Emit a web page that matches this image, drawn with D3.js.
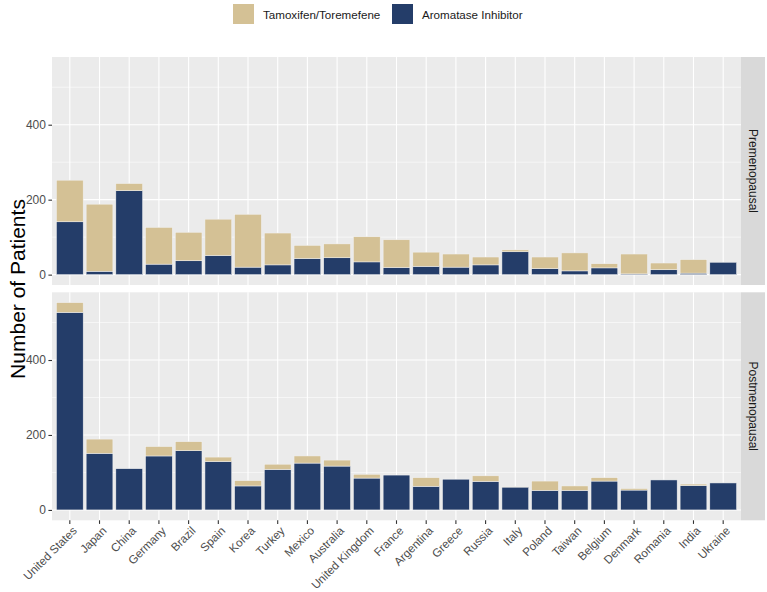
<!DOCTYPE html>
<html>
<head>
<meta charset="utf-8">
<script src="https://cdn.jsdelivr.net/npm/d3@7"></script>
<style>
  html, body { margin: 0; padding: 0; background: #ffffff; }
  svg { display: block; font-family: "Liberation Sans", Arial, sans-serif; }
</style>
</head>
<body>
<svg id="chart" width="767" height="592"></svg>
<script>
// ---- data ----
const countries = ["United States","Japan","China","Germany","Brazil","Spain","Korea","Turkey","Mexico","Australia","United Kingdom","France","Argentina","Greece","Russia","Italy","Poland","Taiwan","Belgium","Denmark","Romania","India","Ukraine"];
const panels = ["Premenopausal","Postmenopausal"];
const seriesNames = ["Tamoxifen/Toremefene","Aromatase Inhibitor"];
// Premenopausal
const preAI  = [141, 9, 224, 28, 37, 51, 20, 26, 43, 45, 34, 19, 22, 20, 26, 61, 16, 10, 18, 2, 13, 4, 33];
const preTam = [111,179, 19, 98, 76, 97,141, 85, 35, 37, 67, 74, 38, 35, 21,  5, 31, 48, 11,53, 18,36,  0];
// Postmenopausal
const postAI  = [527,151,110,144,158,129, 64,108,125,117, 85, 93, 63, 82, 76, 61, 52, 52, 77, 53, 80, 65, 72];
const postTam = [ 26, 38,  0, 25, 24, 12, 14, 14, 19, 16, 10,  0, 23,  0, 15,  1, 25, 12,  9,  4,  0,  4,  0];
const yTicks = [0, 200, 400];
const yMinor = [100, 300, 500];

const colTam = "#D4C195";
const colAI  = "#243D69";

const svg = d3.select("#chart");
const L = 52, R = 741;
const panelBox = [{top: 57, bottom: 285}, {top: 292.3, bottom: 520.3}];
const stripX = 741, stripW = 24;

const x = d3.scaleBand().domain(countries).range([L, R]).paddingInner(0.1).paddingOuter(0.15);
const yMax = 553;
const ex = yMax * 0.05;

const panelData = [
  {name: panels[0], ai: preAI, tam: preTam},
  {name: panels[1], ai: postAI, tam: postTam}
];

panelData.forEach((p, pi) => {
  const box = panelBox[pi];
  const y = d3.scaleLinear().domain([-ex, yMax + ex]).range([box.bottom, box.top]);
  const g = svg.append("g");
  // background
  g.append("rect").attr("x", L).attr("y", box.top).attr("width", R - L).attr("height", box.bottom - box.top).attr("fill", "#EBEBEB");
  // minor grid
  g.selectAll(".ymin").data(yMinor).enter().append("line")
    .attr("x1", L).attr("x2", R).attr("y1", d => y(d)).attr("y2", d => y(d))
    .attr("stroke", "#ffffff").attr("stroke-width", 0.55);
  // major grid
  g.selectAll(".ymaj").data(yTicks).enter().append("line")
    .attr("x1", L).attr("x2", R).attr("y1", d => y(d)).attr("y2", d => y(d))
    .attr("stroke", "#ffffff").attr("stroke-width", 1.1);
  g.selectAll(".xmaj").data(countries).enter().append("line")
    .attr("x1", d => x(d) + x.bandwidth()/2).attr("x2", d => x(d) + x.bandwidth()/2)
    .attr("y1", box.top).attr("y2", box.bottom)
    .attr("stroke", "#ffffff").attr("stroke-width", 1.1);
  // stacked bars
  const rows = countries.map((c, i) => ({country: c, ai: p.ai[i], tam: p.tam[i]}));
  const stack = d3.stack().keys(["ai", "tam"])(rows);
  const colors = {ai: colAI, tam: colTam};
  stack.forEach(layer => {
    g.selectAll(".b" + layer.key).data(layer).enter().append("rect")
      .attr("x", d => x(d.data.country))
      .attr("width", x.bandwidth())
      .attr("y", d => y(d[1]))
      .attr("height", d => Math.max(0, y(d[0]) - y(d[1])))
      .attr("fill", colors[layer.key])
      .attr("stroke", d => (d[1] - d[0]) > 0 ? "#f2f2f2" : "none")
      .attr("stroke-width", 0.5);
  });
  // y axis
  const ya = g.append("g").attr("transform", `translate(${L},0)`)
    .call(d3.axisLeft(y).tickValues(yTicks).tickSize(3.6).tickPadding(2.5));
  ya.select(".domain").remove();
  ya.selectAll(".tick line").attr("stroke", "#333333").attr("stroke-width", 1.1);
  ya.selectAll(".tick text").attr("fill", "#4D4D4D").style("font-size", "12px")
    .style("font-family", "'Liberation Sans', Arial, sans-serif");
  // strip
  g.append("rect").attr("x", stripX).attr("y", box.top).attr("width", stripW).attr("height", box.bottom - box.top).attr("fill", "#D9D9D9");
  g.append("text")
    .attr("transform", `translate(${stripX + stripW/2},${(box.top + box.bottom)/2}) rotate(90)`)
    .attr("text-anchor", "middle").attr("dominant-baseline", "central")
    .attr("fill", "#1A1A1A").style("font-size", "12px").text(p.name);

  if (pi === 1) {
    const xa = g.append("g").attr("transform", `translate(0,${box.bottom})`)
      .call(d3.axisBottom(x).tickSize(3.6).tickPadding(0));
    xa.select(".domain").remove();
    xa.selectAll(".tick line").attr("stroke", "#333333").attr("stroke-width", 1.1);
    xa.selectAll(".tick text").remove();
    g.selectAll(".xlab").data(countries).enter().append("text")
      .attr("transform", d => `translate(${x(d) + x.bandwidth()/2 + 1.5},${box.bottom + 5}) rotate(-45)`)
      .attr("text-anchor", "end").attr("dominant-baseline", "hanging")
      .attr("fill", "#4D4D4D").style("font-size", "11.6px").text(d => d);
  }
});

// y title
svg.append("text")
  .attr("transform", `translate(25,289) rotate(-90)`)
  .attr("text-anchor", "middle").attr("fill", "#000000")
  .style("font-size", "21px").text("Number of Patients");

// legend
const legend = [
  {name: seriesNames[0], color: colTam, kx: 233, tx: 263},
  {name: seriesNames[1], color: colAI, kx: 392, tx: 422}
];
const lg = svg.append("g");
legend.forEach(l => {
  lg.append("rect").attr("x", l.kx).attr("y", 4).attr("width", 21).attr("height", 20).attr("fill", l.color);
  lg.append("text").attr("x", l.tx).attr("y", 14).attr("dominant-baseline", "central")
    .attr("fill", "#1A1A1A").style("font-size", "11.6px").text(l.name);
});
</script>
</body>
</html>
